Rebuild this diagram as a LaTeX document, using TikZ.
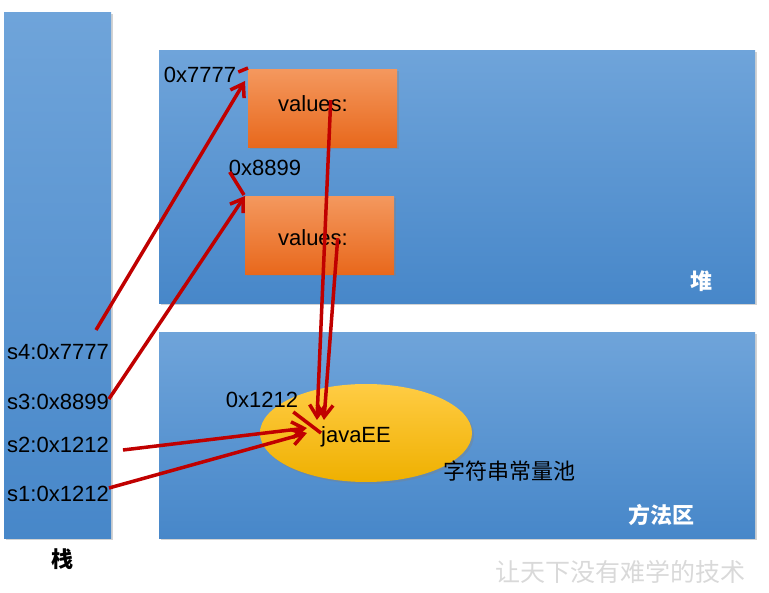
\documentclass[tikz,border=0pt]{standalone}
\usepackage{fontspec}
\setmainfont{Liberation Sans}
\newfontfamily\cjk{Noto Sans CJK SC}
\usetikzlibrary{arrows.meta,shapes.geometric,shadows}
\definecolor{areatop}{HTML}{6FA4DA}
\definecolor{areabot}{HTML}{4787C9}
\definecolor{objtop}{HTML}{F4985E}
\definecolor{objbot}{HTML}{E8681C}
\definecolor{pooltop}{HTML}{FFCC44}
\definecolor{poolbot}{HTML}{EFB000}
\definecolor{ptrred}{HTML}{C00000}
\definecolor{mottogray}{HTML}{D9D9D9}

\begin{document}
\begin{tikzpicture}[x=1pt,y=-1pt,>={Straight Barb[length=12pt,width=16pt,line width=3.5pt]},
  shade/.style={drop shadow={shadow xshift=2pt,shadow yshift=-2pt,opacity=0.35}},
  area/.style={shade,top color=areatop,bottom color=areabot,inner sep=0pt,anchor=north west},
  obj/.style={shade,top color=objtop,bottom color=objbot,minimum width=149,minimum height=78,inner sep=0pt,anchor=north west},
  txt/.style={font=\fontsize{22}{26}\selectfont,inner sep=1pt},
  zh/.style={font=\cjk\fontsize{22}{26}\selectfont,inner sep=1pt},
  ptr/.style={draw=ptrred,line width=3.5pt}]
  \useasboundingbox (0,0) rectangle (769,593);
  % memory areas
  \node[area,minimum width=107,minimum height=526] (stack) at (4,12) {};
  \node[area,minimum width=596,minimum height=253] (heap) at (159,50) {};
  \node[area,minimum width=596,minimum height=206] (method) at (159,332) {};
  \node[zh,font=\cjk\bfseries\fontsize{22}{26}\selectfont] (stackname) at (62,559) {栈};
  \node[zh,font=\cjk\bfseries\fontsize{22}{26}\selectfont,white] (heapname) at (701,281) {堆};
  \node[zh,font=\cjk\bfseries\fontsize{22}{26}\selectfont,white] (methodname) at (661,515) {方法区};
  % heap objects
  \node[obj] (v1) at (248,69) {};
  \node[obj] (v2) at (245,196) {};
  \node[txt] (val1) at (313,104) {values:};
  \node[txt] (val2) at (313,238) {values:};
  \node[txt] (a7777) at (200,75) {0x7777};
  \node[txt] (a8899) at (265,168) {0x8899};
  % string pool
  \node[ellipse,shade,top color=pooltop,bottom color=poolbot,minimum width=212,minimum height=98] (pool) at (366,433) {};
  \node[txt] (a1212) at (262,400) {0x1212};
  \node[txt] (str) at (356,437) {javaEE};
  \node[zh] (poolname) at (509,471) {字符串常量池};
  % stack entries
  \foreach \nm/\y/\lab in {s4/352/s4:0x7777,s3/402/s3:0x8899,s2/445/s2:0x1212,s1/494/s1:0x1212}{
    \node[txt] (\nm) at (58,\y) {\lab};
  }
  \node[font=\cjk\fontsize{25}{28}\selectfont,mottogray] (motto) at (620,572) {让天下没有难学的技术};
  % references
  \draw[ptr,->] ([shift={(38,-22)}]s4.center) -- ([shift={(-3,12)}]v1.north west);
  \draw[ptr,->] ([shift={(-1,-3)}]s3.east) -- (v2.north west);
  \draw[ptr,->] ([shift={(13,5)}]s2.east) -- ([shift={(-13,-9)}]str.west);
  \draw[ptr,->] ([shift={(-1,-6)}]s1.east) -- ([shift={(-13,-4)}]str.west);
  \draw[ptr,->] ([shift={(8,-8)}]v1.center) -- ([shift={(-3,-17)}]str.west);
  \draw[ptr,->] ([shift={(18,3)}]v2.center) -- ([shift={(4,-17)}]str.west);
  \draw[ptr] ([xshift=1pt,yshift=3pt]a7777.east) -- ([yshift=1pt]v1.north west);
  \draw[ptr] ([shift={(2,-5)}]a8899.south west) -- ([shift={(-1,-1)}]v2.north west);
  \draw[ptr] ([shift={(-6,3)}]a1212.south east) -- ([shift={(1,-4)}]str.west);
\end{tikzpicture}
\end{document}
